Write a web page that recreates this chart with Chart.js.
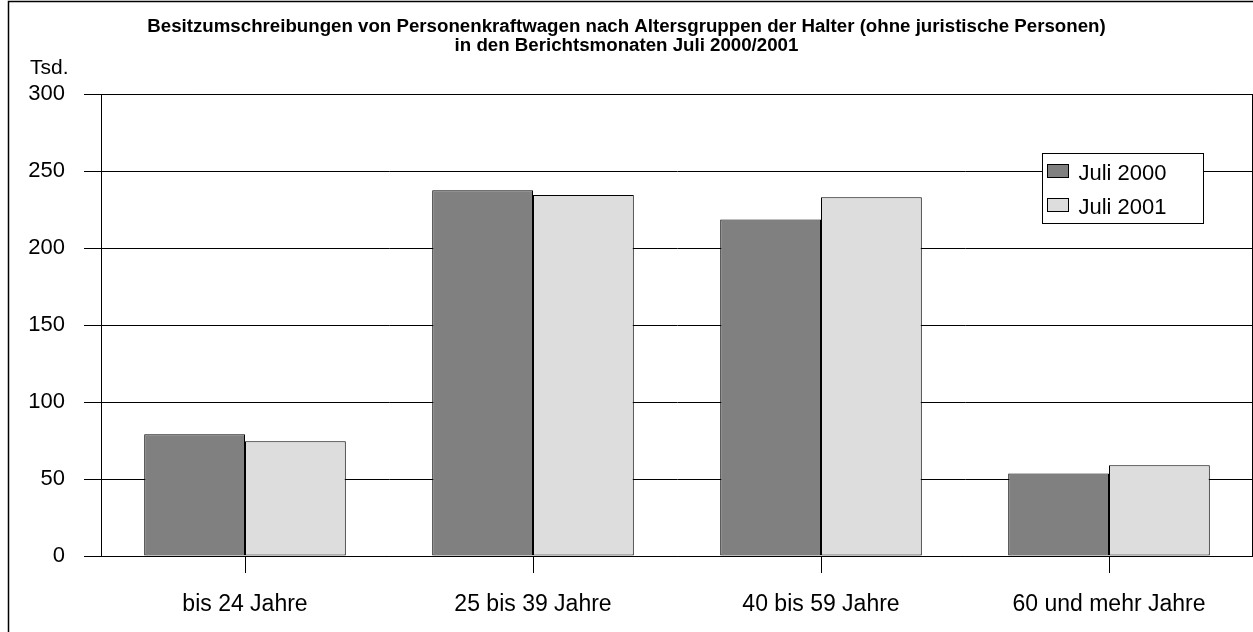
<!DOCTYPE html>
<html>
<head>
<meta charset="utf-8">
<script src="https://cdn.jsdelivr.net/npm/chart.js@4"></script>
<style>
  html, body { margin: 0; padding: 0; background: #fff; }
  #wrap { width: 1253px; height: 632px; }
</style>
</head>
<body>
<div id="wrap"><canvas id="barChart" width="1253" height="632"></canvas></div>
<script>
/* Daten */
var kategorien = ['bis 24 Jahre', '25 bis 39 Jahre', '40 bis 59 Jahre', '60 und mehr Jahre'];
var juli2000 = [79, 237.5, 218.5, 53.5];
var juli2001 = [74.5, 234.5, 233, 59];
var serien = ['Juli 2000', 'Juli 2001'];
var titel = ['Besitzumschreibungen von Personenkraftwagen nach Altersgruppen der Halter (ohne juristische Personen)',
             'in den Berichtsmonaten Juli 2000/2001'];
var einheit = 'Tsd.';

var schrift = 'Liberation Sans, Arial, sans-serif';

/* Rahmen, Einheit und Legende */
var extras = {
  id: 'extras',
  beforeDraw: function(chart) {
    var ctx = chart.ctx;
    ctx.save();
    ctx.fillStyle = '#fff';
    ctx.fillRect(0, 0, chart.width, chart.height);
    ctx.restore();
  },
  afterDraw: function(chart) {
    var ctx = chart.ctx, a = chart.chartArea;
    ctx.save();
    // äußerer Rahmen
    ctx.strokeStyle = '#000';
    ctx.lineWidth = 1.5;
    ctx.beginPath();
    ctx.moveTo(8.5, chart.height + 2);
    ctx.lineTo(8.5, 1.5);
    ctx.lineTo(chart.width + 2, 1.5);
    ctx.stroke();
    // Plotrahmen oben und rechts
    ctx.lineWidth = 1;
    ctx.beginPath();
    ctx.moveTo(a.left, a.top + 0.5);
    ctx.lineTo(a.right - 0.5, a.top + 0.5);
    ctx.lineTo(a.right - 0.5, a.bottom);
    ctx.stroke();
    // Einheit
    ctx.fillStyle = '#000';
    ctx.font = '21px ' + schrift;
    ctx.textBaseline = 'middle';
    ctx.textAlign = 'left';
    ctx.fillText(einheit, 30, 68);
    // Legende
    var lx = 1042.5, ly = 153.5, lw = 161, lh = 70;
    ctx.fillStyle = '#fff';
    ctx.fillRect(lx, ly, lw, lh);
    ctx.strokeStyle = '#000';
    ctx.strokeRect(lx, ly, lw, lh);
    chart.data.datasets.forEach(function(ds, i) {
      var y = ly + 11 + i * 34;
      ctx.fillStyle = ds.backgroundColor;
      ctx.fillRect(lx + 5, y, 21, 13);
      ctx.strokeStyle = '#000';
      ctx.strokeRect(lx + 5, y, 21, 13);
      ctx.fillStyle = '#000';
      ctx.font = '22px ' + schrift;
      ctx.textBaseline = 'middle';
      ctx.fillText(ds.label, lx + 36, y + 9);
    });
    ctx.restore();
  }
};

var barChart = new Chart(document.getElementById('barChart'), {
  type: 'bar',
  data: {
    labels: kategorien,
    datasets: [{
      label: serien[0],
      data: juli2000,
      backgroundColor: '#808080',
      borderColor: '#000',
      borderWidth: 1,
      borderSkipped: false,
    }, {
      label: serien[1],
      data: juli2001,
      backgroundColor: '#dddddd',
      borderColor: '#000',
      borderWidth: 1,
      borderSkipped: false,
    }]
  },
  options: {
    responsive: false,
    animation: false,
    layout: { padding: { left: 0, right: 0, top: 0, bottom: 0 } },
    categoryPercentage: 0.7,
    barPercentage: 1.0,
    scales: {
      x: {
        afterFit: function(s) { s.height = 76; },
        grid: { drawOnChartArea: false, offset: false, tickLength: 17, color: '#000' },
        border: { color: '#000', width: 1 },
        ticks: { color: '#000', font: { family: schrift, size: 23 }, padding: 18, maxRotation: 0 }
      },
      y: {
        min: 0,
        max: 300,
        afterFit: function(s) { s.width = 101; },
        grid: { color: '#000', tickLength: 17 },
        border: { color: '#000', width: 1 },
        ticks: { stepSize: 50, color: '#000', font: { family: schrift, size: 22 }, padding: 19 }
      }
    },
    plugins: {
      legend: { display: false },
      tooltip: { enabled: false },
      title: {
        display: true,
        text: titel,
        color: '#000',
        font: { family: schrift, size: 18.7, weight: 'bold', lineHeight: 1.03 },
        padding: { top: 17, bottom: 38.5 }
      }
    }
  },
  plugins: [extras]
});
</script>
</body>
</html>
